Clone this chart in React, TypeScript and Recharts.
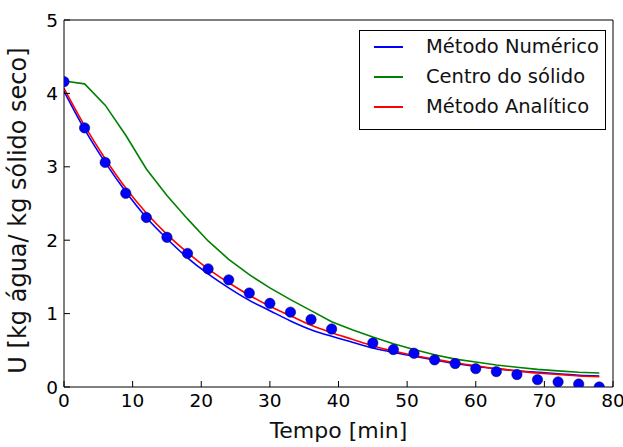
import React from 'react';
import { ComposedChart, Line, Scatter, XAxis, YAxis, Legend } from 'recharts';

// tempo [min] das curvas simuladas
const tempo = [0, 3, 6, 9, 12, 15, 18, 21, 24, 27, 30, 33, 36, 39, 42, 45, 48, 51, 54, 57, 60, 63, 66, 69, 72, 75, 78];
const uNumerico = [4.03, 3.51, 3.06, 2.66, 2.31, 2.02, 1.76, 1.54, 1.35, 1.18, 1.04, 0.9, 0.78, 0.69, 0.61, 0.53, 0.47, 0.42, 0.37, 0.32, 0.28, 0.25, 0.22, 0.2, 0.18, 0.16, 0.15];
const uCentro = [4.17, 4.13, 3.84, 3.43, 2.97, 2.61, 2.29, 1.99, 1.74, 1.53, 1.35, 1.19, 1.04, 0.89, 0.78, 0.68, 0.59, 0.51, 0.44, 0.38, 0.34, 0.3, 0.27, 0.24, 0.22, 0.2, 0.19];
const uAnalitico = [4.07, 3.56, 3.11, 2.71, 2.37, 2.08, 1.83, 1.61, 1.42, 1.25, 1.1, 0.97, 0.84, 0.74, 0.65, 0.56, 0.49, 0.43, 0.38, 0.33, 0.29, 0.25, 0.22, 0.19, 0.17, 0.15, 0.14];

// dados experimentais
const tempoExp = [0, 3, 6, 9, 12, 15, 18, 21, 24, 27, 30, 33, 36, 39, 45, 48, 51, 54, 57, 60, 63, 66, 69, 72, 75, 78];
const uExp = [4.16, 3.53, 3.06, 2.64, 2.31, 2.04, 1.82, 1.61, 1.46, 1.28, 1.14, 1.02, 0.92, 0.79, 0.6, 0.51, 0.46, 0.37, 0.32, 0.25, 0.21, 0.17, 0.1, 0.07, 0.04, 0.0];

const ticksX = [0, 10, 20, 30, 40, 50, 60, 70, 80];
const ticksY = [0, 1, 2, 3, 4, 5];
const nomes = ['Método Numérico', 'Centro do sólido', 'Método Analítico'];

const toPoints = (ts: number[], us: number[]) => ts.map((t, i) => ({ t, u: us[i] }));

const FONT = 'DejaVu Sans';
const tickStyle = { fill: '#000', fontSize: 18.5, fontFamily: FONT };

function renderLegend(props: any) {
  const items = (props.payload || [])
    .filter((p: any) => p.type !== 'none')
    .slice()
    .sort((a: any, b: any) => nomes.indexOf(a.value) - nomes.indexOf(b.value));
  return (
    <div
      style={{
        width: 247,
        height: 100,
        boxSizing: 'border-box',
        border: '1px solid #000',
        background: '#fff',
        paddingTop: 1,
        fontFamily: FONT,
        fontSize: 19.5,
        color: '#111',
      }}
    >
      {items.map((item: any) => (
        <div key={item.value} style={{ position: 'relative', height: 30, lineHeight: '30px' }}>
          <div style={{ position: 'absolute', left: 14, top: 14, width: 29, height: 2, background: item.color }} />
          <span style={{ position: 'absolute', left: 66, top: 0, whiteSpace: 'nowrap' }}>{item.value}</span>
        </div>
      ))}
    </div>
  );
}

export default function App() {
  return (
    <div style={{ position: 'absolute', left: 0, top: 0, background: '#fff' }}>
      <ComposedChart width={623} height={447} margin={{ top: 14, right: 9, bottom: 0, left: 0 }}>
        <XAxis
          xAxisId="bottom"
          dataKey="t"
          type="number"
          domain={[0, 80]}
          ticks={ticksX}
          interval={0}
          allowDataOverflow
          height={60}
          stroke="#000"
          tickSize={-6}
          tickMargin={12.5}
          tick={tickStyle}
          label={{
            content: (p: any) => {
              const vb = p.viewBox || { x: 64, y: 386, width: 549, height: 60 };
              return (
                <text x={vb.x + vb.width / 2} y={vb.y + 51} textAnchor="middle" fontFamily={FONT} fontSize={22} fill="#111">
                  Tempo [min]
                </text>
              );
            },
          }}
        />
        <XAxis xAxisId="top" orientation="top" type="number" domain={[0, 80]} ticks={ticksX} interval={0} height={6} stroke="#000" tickSize={-6} tick={false} />
        <YAxis
          yAxisId="left"
          dataKey="u"
          type="number"
          domain={[0, 5]}
          ticks={ticksY}
          interval={0}
          allowDataOverflow
          width={64}
          stroke="#000"
          tickSize={-6}
          tickMargin={12}
          tick={tickStyle}
          label={{
            content: (p: any) => {
              const vb = p.viewBox || { x: 0, y: 20, width: 64, height: 366 };
              const cx = vb.x + 18;
              const cy = vb.y + vb.height / 2 + 7;
              return (
                <text x={cx} y={cy} transform={`rotate(-90 ${cx} ${cy})`} textAnchor="middle" dominantBaseline="central" fontFamily={FONT} fontSize={24} fill="#111">
                  U [kg água/ kg sólido seco]
                </text>
              );
            },
          }}
        />
        <YAxis yAxisId="right" orientation="right" type="number" domain={[0, 5]} ticks={ticksY} interval={0} width={1} stroke="#000" tickSize={-6} tick={false} />
        <Legend
          layout="vertical"
          align="center"
          verticalAlign="middle"
          content={renderLegend}
          wrapperStyle={{ position: 'absolute', left: 359, top: 30, width: 247, height: 100 }}
        />
        <Line xAxisId="bottom" yAxisId="left" data={toPoints(tempo, uNumerico)} dataKey="u" name={nomes[0]} type="monotone" stroke="#0000ff" strokeWidth={1.6} dot={false} activeDot={false} isAnimationActive={false} />
        <Line xAxisId="bottom" yAxisId="left" data={toPoints(tempo, uCentro)} dataKey="u" name={nomes[1]} type="linear" stroke="#008000" strokeWidth={1.6} dot={false} activeDot={false} isAnimationActive={false} />
        <Line xAxisId="bottom" yAxisId="left" data={toPoints(tempo, uAnalitico)} dataKey="u" name={nomes[2]} type="monotone" stroke="#ff0000" strokeWidth={1.6} dot={false} activeDot={false} isAnimationActive={false} />
        <Scatter
          xAxisId="bottom"
          yAxisId="left"
          data={toPoints(tempoExp, uExp)}
          dataKey="u"
          legendType="none"
          isAnimationActive={false}
          shape={(p: any) => <circle cx={p.cx} cy={p.cy} r={5.2} fill="#0000ff" stroke="#000033" strokeWidth={0.5} />}
        />
      </ComposedChart>
    </div>
  );
}
